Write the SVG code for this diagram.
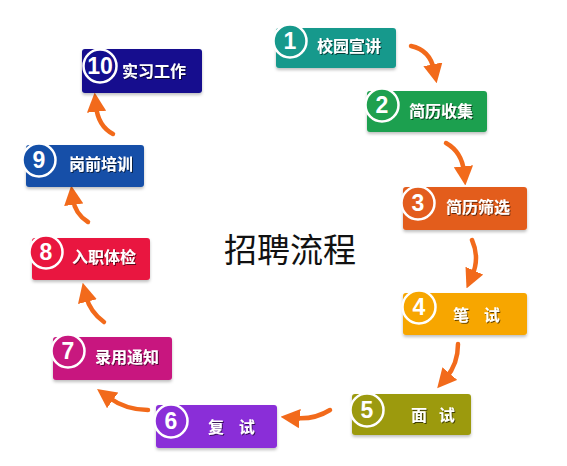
<svg xmlns="http://www.w3.org/2000/svg" width="567" height="466" viewBox="0 0 567 466">
<style>
.box{stroke:none;filter:url(#sh)}
.num{fill:#fff;font-family:"Liberation Sans",Arial,sans-serif;font-weight:bold;font-size:23px;text-anchor:middle}
.lbl{fill:#fff;font-family:"Noto Sans CJK SC",sans-serif;font-weight:bold;font-size:16px;filter:url(#ts)}
.ring{stroke:#fff;stroke-width:2.5}
.arr{fill:none;stroke:#f26a1b;stroke-width:4.5;stroke-linecap:round;marker-end:url(#ah)}
.title{font-family:"Noto Sans CJK SC",sans-serif;font-size:33px;fill:#111;text-anchor:middle}
</style>
<defs>
<filter id="sh" x="-10%" y="-10%" width="120%" height="140%"><feDropShadow dx="0" dy="2" stdDeviation="1.5" flood-color="#000" flood-opacity="0.25"/></filter>
<filter id="ts" x="-10%" y="-20%" width="120%" height="150%"><feDropShadow dx="1" dy="1" stdDeviation="0.4" flood-color="#000" flood-opacity="0.6"/></filter>
<marker id="ah" viewBox="0 0 10 10" refX="3" refY="5" markerWidth="4.3" markerHeight="4.3" orient="auto"><path d="M0,0 L10,5 L0,10 Z" fill="#f26a1b"/></marker>
</defs>
<rect width="567" height="466" fill="#fff"/>
<g id="connectors">
<path class="arr" d="M411,46 Q430,50 434,70"/>
<path class="arr" d="M446,143 Q462,152 464,172"/>
<path class="arr" d="M472,240 Q480,258 472,276"/>
<path class="arr" d="M458,344 Q458,364 446,378"/>
<path class="arr" d="M330,410 Q314,420 294,418"/>
<path class="arr" d="M148,410 Q126,410 108,397"/>
<path class="arr" d="M104,322 Q90,312 86,296"/>
<path class="arr" d="M88,222 Q75,214 73,199"/>
<path class="arr" d="M113,134 Q98,126 96,106"/>
</g>
<text class="title" x="290" y="262">招聘流程</text>
<g id="node1"><rect class="box" x="276" y="28" width="120" height="40" rx="3" fill="#17998c"/><circle class="ring" cx="290" cy="41" r="16.5" fill="#17998c"/><text class="num" x="290" y="49">1</text><text class="lbl" x="317" y="52">校园宣讲</text></g>
<g id="node2"><rect class="box" x="367" y="91" width="120" height="41" rx="3" fill="#1fa04f"/><circle class="ring" cx="382" cy="105" r="16.5" fill="#1fa04f"/><text class="num" x="382" y="113">2</text><text class="lbl" x="409" y="117">简历收集</text></g>
<g id="node3"><rect class="box" x="403" y="187" width="124" height="43" rx="3" fill="#e35d1e"/><circle class="ring" cx="418" cy="203" r="16.5" fill="#e35d1e"/><text class="num" x="418" y="211">3</text><text class="lbl" x="446" y="213">简历筛选</text></g>
<g id="node4"><rect class="box" x="403" y="293" width="124" height="42" rx="3" fill="#f7a600"/><circle class="ring" cx="419" cy="307" r="16.5" fill="#f7a600"/><text class="num" x="419" y="315">4</text><text class="lbl" x="453" y="321" word-spacing="11">笔 试</text></g>
<g id="node5"><rect class="box" x="352" y="394" width="119" height="41" rx="3" fill="#9c9a10"/><circle class="ring" cx="367" cy="410" r="16.5" fill="#9c9a10"/><text class="num" x="367" y="418">5</text><text class="lbl" x="411" y="421" word-spacing="8">面 试</text></g>
<g id="node6"><rect class="box" x="156" y="405" width="121" height="43" rx="3" fill="#8a2ed8"/><circle class="ring" cx="171" cy="421" r="16.5" fill="#8a2ed8"/><text class="num" x="171" y="429">6</text><text class="lbl" x="208" y="433" word-spacing="11">复 试</text></g>
<g id="node7"><rect class="box" x="53" y="337" width="119" height="43" rx="3" fill="#c8187f"/><circle class="ring" cx="68" cy="351" r="16.5" fill="#c8187f"/><text class="num" x="68" y="359">7</text><text class="lbl" x="95" y="363">录用通知</text></g>
<g id="node8"><rect class="box" x="32" y="238" width="118" height="42" rx="3" fill="#e9173f"/><circle class="ring" cx="46" cy="252" r="16.5" fill="#e9173f"/><text class="num" x="46" y="260">8</text><text class="lbl" x="72" y="263">入职体检</text></g>
<g id="node9"><rect class="box" x="26" y="145" width="118" height="42" rx="3" fill="#1450a8"/><circle class="ring" cx="39" cy="160" r="16.5" fill="#1450a8"/><text class="num" x="39" y="168">9</text><text class="lbl" x="69" y="170">岗前培训</text></g>
<g id="node10"><rect class="box" x="82" y="49" width="120" height="44" rx="3" fill="#130f8e"/><circle class="ring" cx="100" cy="66" r="16.5" fill="#130f8e"/><text class="num" x="100" y="74">10</text><text class="lbl" x="122" y="77">实习工作</text></g>
</svg>
